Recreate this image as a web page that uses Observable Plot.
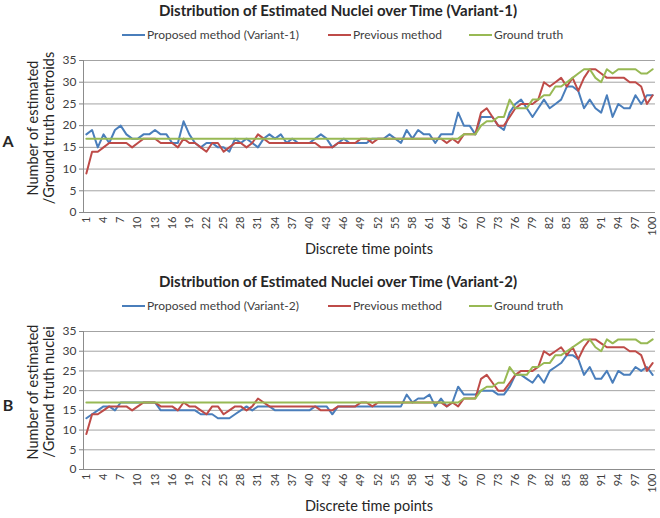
<!DOCTYPE html>
<html><head><meta charset="utf-8">
<script src="https://cdn.jsdelivr.net/npm/d3@7"></script>
<script src="https://cdn.jsdelivr.net/npm/@observablehq/plot@0.6"></script>
<style>
body{margin:0;background:#fff;font-family:Lato,"Open Sans",sans-serif;color:#262626;}
#root{position:relative;width:660px;height:518px;overflow:hidden;background:#fff;}
.abs{position:absolute;white-space:nowrap;}
.title{font-weight:bold;font-size:15px;transform:translateX(-50%);}
.leg{font-size:12px;color:#404040;}
.sw{position:absolute;height:2px;width:23px;}
.ytitle{font-size:14.5px;line-height:16px;text-align:center;transform:translate(-50%,-50%) rotate(-90deg);color:#262626;}
.xtitle{font-size:14.5px;transform:translate(-50%,-50%);color:#262626;}
.letter{font-weight:bold;font-size:16px;transform:translate(-50%,-50%);}
svg{position:absolute;left:0;}
</style></head><body><div id="root"></div>
<script>
// categories
const time = d3.range(1, 101);
const xTicks = [1,4,7,10,13,16,19,22,25,28,31,34,37,40,43,46,49,52,55,58,61,64,67,70,73,76,79,82,85,88,91,94,97,100];
const yTicks = [0,5,10,15,20,25,30,35];

// series
const proposedV1 = [18,19,15,18,16,19,20,18,17,17,18,18,19,18,18,16,16,21,18,16,15,16,16,15,15,14,17,16,17,16,15,17,18,17,
  18,16,17,16,16,16,17,18,17,15,16,17,16,16,16,16,17,17,17,18,17,16,19,17,19,18,18,16,18,18,18,23,20,
  20,18,22,22,22,20,19,23,25,26,24,22,24,26,24,25,26,29,29,28,24,26,24,23,27,22,25,24,24,27,25,27,27];
const proposedV2 = [13,14,15,16,16,15,17,17,17,17,17,17,17,15,15,15,15,15,15,15,14,14,14,13,13,13,14,15,16,15,16,16,16,15,
  15,15,15,15,15,15,16,16,16,14,16,16,16,16,16,16,16,16,16,16,16,16,19,17,18,18,19,16,18,16,17,21,19,
  19,19,20,20,20,19,19,21,24,24,23,22,24,22,25,26,27,29,29,28,24,26,23,23,25,22,25,24,24,26,25,26,24];
const previous = [9,14,14,15,16,16,16,16,15,16,17,17,17,16,16,16,15,17,16,16,15,14,16,16,14,15,16,16,15,16,18,17,16,16,
  16,16,16,16,16,16,16,15,15,15,16,16,16,16,17,17,16,17,17,17,17,17,17,17,17,17,17,17,17,16,17,16,18,
  18,18,23,24,22,20,20,22,24,25,25,25,26,30,29,30,31,29,31,28,31,33,33,32,31,31,31,31,30,30,29,25,27];
const groundTruth = [17,17,17,17,17,17,17,17,17,17,17,17,17,17,17,17,17,17,17,17,17,17,17,17,17,17,17,17,17,17,17,17,17,17,
  17,17,17,17,17,17,17,17,17,17,17,17,17,17,17,17,17,17,17,17,17,17,17,17,17,17,17,17,17,17,17,17,
  18,18,18,20,21,21,22,22,26,24,24,24,26,26,27,27,29,29,30,31,32,33,33,31,30,33,32,33,33,33,33,32,32,33];

const seriesNames = ["Previous method", "Ground truth"];
const BLUE = "#4a7ebb", RED = "#be4b48", GREEN = "#98b954";

const root = document.getElementById("root");
function addDiv(cls, html, style) {
  const d = document.createElement("div");
  d.className = "abs " + cls;
  d.innerHTML = html;
  Object.assign(d.style, style);
  root.appendChild(d);
  return d;
}

function panel(cfg) {
  const {top, height, mb, blue, blueName, title, ytitle2, letter} = cfg;
  const p = Plot.plot({
    width: 660, height, marginTop: 60, marginBottom: mb, marginLeft: 83, marginRight: 5,
    style: {fontFamily: "Lato, sans-serif", fontSize: "12px", color: "#404040", background: "transparent", overflow: "visible"},
    x: {domain: [0.5, 100.5]},
    y: {domain: [0, 35]},
    marks: [
      Plot.gridY(yTicks, {stroke: "#a3a3a3", strokeOpacity: 1}),
      Plot.axisY(yTicks, {tickSize: 4, tickPadding: 3, label: null, stroke: "#888", fontSize: 12}),
      Plot.axisX(xTicks, {tickSize: 0, tickRotate: -90, tickPadding: 4, label: null, fontSize: 11}),
      Plot.ruleX([0.5], {stroke: "#8c8c8c"}),
      Plot.ruleY([0], {stroke: "#8c8c8c"}),
      Plot.line(blue, {x: (d, i) => time[i], y: d => d, stroke: BLUE, strokeWidth: 2}),
      Plot.line(previous, {x: (d, i) => time[i], y: d => d, stroke: RED, strokeWidth: 2}),
      Plot.line(groundTruth, {x: (d, i) => time[i], y: d => d, stroke: GREEN, strokeWidth: 2})
    ]
  });
  p.style.top = top + "px";
  root.appendChild(p);
  const plotTop = top + 60, plotBottom = top + height - mb;
  addDiv("title", title, {left: "338px", top: (top + 1) + "px"});
  // legend
  const ly = top + 35;
  const items = [[BLUE, blueName, 122], [RED, seriesNames[0], 328], [GREEN, seriesNames[1], 469]];
  for (const [c, name, x] of items) {
    addDiv("sw", "", {left: x + "px", top: (ly - 1) + "px", background: c});
    addDiv("leg", name, {left: (x + 25) + "px", top: (ly - 8) + "px"});
  }
  addDiv("ytitle", "Number of estimated<br>/Ground truth " + ytitle2, {left: "41px", top: ((plotTop + plotBottom) / 2 - 8) + "px"});
  addDiv("xtitle", "Discrete time points", {left: "369px", top: (plotBottom + 36) + "px"});
  addDiv("letter", letter, {left: "8px", top: ((plotTop + plotBottom) / 2 + 4) + "px"});
}

panel({top: 0, height: 260, mb: 48, blue: proposedV1, blueName: "Proposed method (Variant-1)",
  title: "Distribution of Estimated Nuclei over Time (Variant-1)", ytitle2: "centroids", letter: "A"});
panel({top: 271, height: 247, mb: 49, blue: proposedV2, blueName: "Proposed method (Variant-2)",
  title: "Distribution of Estimated Nuclei over Time (Variant-2)", ytitle2: "nuclei", letter: "B"});
</script></body></html>
